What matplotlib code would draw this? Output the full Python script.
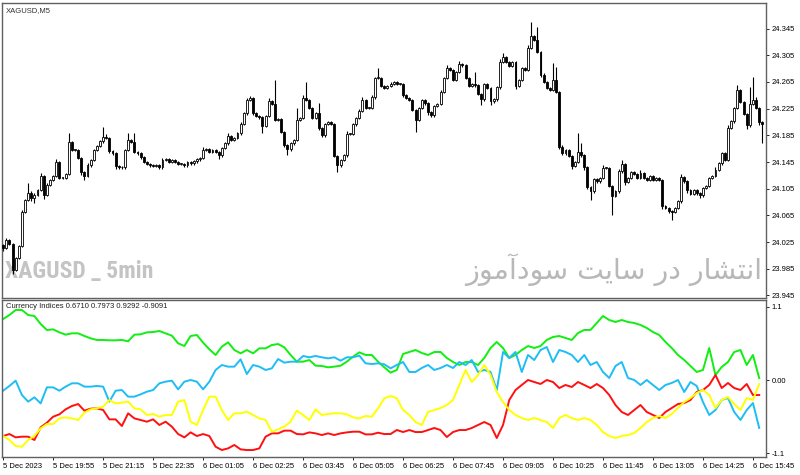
import matplotlib
matplotlib.use("Agg")
import matplotlib.pyplot as plt
from matplotlib import font_manager
import numpy as np

# XAGUSD M5 closes, one per bar (5 Dec 18:35 onwards)
close = [
    24.016, 24.028, 24.022, 23.983, 24.001, 24.019, 24.070, 24.088, 24.099, 24.091, 24.096, 24.103, 24.124, 24.096, 24.111, 24.118,
    24.124, 24.145, 24.121, 24.121, 24.127, 24.175, 24.163, 24.163, 24.151, 24.130, 24.124, 24.140, 24.148, 24.163, 24.169, 24.176,
    24.182, 24.181, 24.161, 24.158, 24.139, 24.137, 24.137, 24.163, 24.178, 24.175, 24.160, 24.158, 24.152, 24.145, 24.142, 24.140,
    24.139, 24.140, 24.137, 24.148, 24.149, 24.145, 24.148, 24.145, 24.142, 24.142, 24.140, 24.145, 24.143, 24.146, 24.149, 24.151,
    24.163, 24.164, 24.160, 24.163, 24.160, 24.155, 24.166, 24.173, 24.184, 24.178, 24.181, 24.188, 24.202, 24.218, 24.238, 24.241,
    24.218, 24.214, 24.212, 24.199, 24.214, 24.236, 24.232, 24.208, 24.209, 24.190, 24.170, 24.164, 24.173, 24.178, 24.208, 24.211,
    24.241, 24.238, 24.226, 24.211, 24.218, 24.196, 24.185, 24.202, 24.205, 24.202, 24.154, 24.140, 24.148, 24.155, 24.187, 24.187,
    24.202, 24.211, 24.222, 24.238, 24.226, 24.226, 24.242, 24.271, 24.271, 24.259, 24.256, 24.259, 24.262, 24.265, 24.262, 24.262,
    24.245, 24.241, 24.238, 24.223, 24.208, 24.226, 24.238, 24.233, 24.220, 24.215, 24.229, 24.232, 24.250, 24.271, 24.286, 24.283,
    24.268, 24.280, 24.292, 24.290, 24.271, 24.259, 24.262, 24.260, 24.247, 24.239, 24.262, 24.256, 24.236, 24.239, 24.257, 24.295,
    24.302, 24.295, 24.289, 24.295, 24.259, 24.268, 24.286, 24.283, 24.316, 24.334, 24.328, 24.310, 24.276, 24.265, 24.256, 24.253,
    24.268, 24.250, 24.168, 24.158, 24.163, 24.154, 24.139, 24.145, 24.160, 24.155, 24.137, 24.107, 24.101, 24.119, 24.116, 24.121,
    24.136, 24.136, 24.109, 24.094, 24.101, 24.131, 24.142, 24.115, 24.121, 24.130, 24.127, 24.121, 24.128, 24.121, 24.118, 24.124,
    24.118, 24.121, 24.118, 24.079, 24.076, 24.071, 24.070, 24.076, 24.086, 24.122, 24.116, 24.103, 24.097, 24.103, 24.098, 24.095,
    24.106, 24.109, 24.121, 24.124, 24.133, 24.143, 24.158, 24.148, 24.196, 24.206, 24.226, 24.253, 24.235, 24.217, 24.200, 24.232,
    24.238, 24.226, 24.205, 24.202,
]
first_open = 24.020

# wick lengths above / below the body, in thousandths
up_wick = [
    2, 3, 2, 2, 2, 2, 3, 2, 15, 2, 2, 2, 4, 2, 2, 2,
    2, 4, 2, 2, 2, 13, 2, 2, 2, 2, 2, 3, 2, 2, 2, 2,
    15, 5, 2, 2, 2, 2, 2, 2, 10, 2, 13, 2, 2, 2, 2, 2,
    2, 2, 2, 3, 2, 2, 2, 2, 2, 2, 2, 2, 2, 2, 2, 2,
    4, 2, 2, 2, 2, 2, 2, 2, 4, 2, 2, 2, 3, 2, 3, 3,
    2, 2, 2, 2, 2, 5, 2, 36, 2, 2, 2, 2, 2, 2, 18, 2,
    5, 24, 2, 2, 2, 15, 2, 2, 2, 2, 2, 2, 2, 2, 4, 2,
    2, 2, 2, 5, 2, 2, 4, 2, 15, 2, 2, 2, 3, 2, 2, 2,
    2, 2, 2, 2, 2, 2, 2, 2, 2, 2, 2, 2, 3, 2, 4, 2,
    2, 2, 4, 2, 2, 2, 2, 18, 2, 2, 2, 2, 2, 2, 2, 5,
    6, 2, 2, 2, 2, 2, 2, 2, 4, 21, 2, 20, 2, 2, 2, 2,
    25, 20, 2, 2, 2, 2, 2, 2, 28, 13, 2, 2, 2, 2, 2, 2,
    5, 2, 2, 2, 2, 4, 6, 2, 2, 2, 2, 2, 5, 2, 2, 2,
    2, 2, 2, 2, 2, 2, 2, 2, 2, 5, 2, 2, 2, 2, 2, 2,
    2, 2, 2, 2, 4, 2, 2, 2, 4, 2, 2, 8, 2, 2, 2, 25,
    35, 4, 2, 2,
]
down_wick = [
    5, 2, 2, 6, 2, 2, 2, 2, 2, 5, 8, 2, 2, 6, 2, 2,
    2, 2, 2, 2, 2, 2, 2, 2, 2, 4, 6, 2, 2, 2, 2, 2,
    2, 2, 2, 2, 4, 2, 2, 2, 2, 2, 2, 2, 3, 2, 2, 2,
    2, 2, 2, 2, 2, 2, 2, 2, 2, 2, 2, 2, 2, 2, 2, 2,
    2, 2, 2, 2, 2, 6, 2, 2, 2, 2, 2, 2, 2, 2, 2, 2,
    2, 2, 2, 10, 2, 2, 2, 2, 2, 2, 2, 9, 2, 2, 2, 2,
    2, 2, 2, 2, 2, 3, 2, 2, 2, 2, 2, 10, 2, 2, 2, 2,
    2, 3, 2, 2, 2, 2, 2, 2, 2, 2, 2, 2, 2, 2, 2, 2,
    2, 2, 2, 2, 18, 2, 2, 2, 4, 2, 2, 2, 2, 2, 2, 2,
    2, 2, 2, 2, 2, 2, 2, 2, 2, 9, 2, 2, 5, 2, 2, 2,
    2, 2, 2, 2, 5, 2, 2, 2, 2, 2, 2, 2, 3, 2, 2, 2,
    2, 2, 4, 2, 2, 2, 4, 2, 2, 2, 4, 2, 13, 2, 2, 2,
    2, 2, 2, 28, 2, 2, 2, 4, 2, 2, 2, 2, 2, 2, 2, 2,
    2, 2, 2, 4, 2, 2, 12, 2, 2, 2, 2, 5, 2, 2, 2, 4,
    2, 2, 2, 2, 2, 2, 2, 2, 2, 2, 2, 2, 2, 2, 5, 2,
    2, 2, 4, 28,
]

time_labels = ["5 Dec 2023", "5 Dec 19:55", "5 Dec 21:15", "5 Dec 22:35",
               "6 Dec 01:05", "6 Dec 02:25", "6 Dec 03:45", "6 Dec 05:05",
               "6 Dec 06:25", "6 Dec 07:45", "6 Dec 09:05", "6 Dec 10:25",
               "6 Dec 11:45", "6 Dec 13:05", "6 Dec 14:25", "6 Dec 15:45"]
price_ticks = [24.345, 24.305, 24.265, 24.225, 24.185, 24.145,
               24.105, 24.065, 24.025, 23.985, 23.945]

# Currency Indices, one value every second bar
idx_green = [
    0.919, 0.979, 1.055, 1.055, 0.979, 0.964, 0.844, 0.753, 0.763, 0.718, 0.683, 0.703, 0.703, 0.663, 0.628, 0.603,
    0.603, 0.598, 0.598, 0.603, 0.583, 0.683, 0.688, 0.718, 0.723, 0.738, 0.703, 0.668, 0.553, 0.512, 0.663, 0.678,
    0.563, 0.462, 0.377, 0.502, 0.568, 0.452, 0.402, 0.452, 0.402, 0.477, 0.477, 0.527, 0.542, 0.492, 0.377, 0.276,
    0.276, 0.301, 0.216, 0.211, 0.191, 0.201, 0.216, 0.276, 0.352, 0.417, 0.377, 0.377, 0.276, 0.191, 0.111, 0.151,
    0.392, 0.422, 0.452, 0.407, 0.377, 0.422, 0.422, 0.332, 0.271, 0.226, 0.271, 0.271, 0.226, 0.332, 0.482, 0.573,
    0.482, 0.332, 0.377, 0.452, 0.512, 0.482, 0.512, 0.603, 0.648, 0.663, 0.633, 0.603, 0.708, 0.754, 0.754, 0.859,
    0.964, 0.904, 0.874, 0.904, 0.874, 0.859, 0.829, 0.784, 0.723, 0.678, 0.573, 0.482, 0.377, 0.301, 0.211, 0.121,
    0.151, 0.482, 0.075, 0.196, 0.271, 0.422, 0.452, 0.226, 0.377, 0.030,
]
idx_blue = [
    -0.161, -0.090, -0.010, -0.226, -0.326, -0.261, -0.352, -0.111, -0.111, -0.161, -0.100, -0.050, -0.050, -0.100, -0.100, -0.090,
    -0.100, -0.326, -0.161, -0.151, -0.251, -0.251, -0.216, -0.176, -0.151, -0.050, -0.025, -0.010, -0.141, -0.025, 0.000, -0.025,
    -0.141, -0.025, 0.151, 0.226, 0.201, 0.201, 0.311, 0.090, 0.226, 0.201, 0.151, 0.176, 0.316, 0.261, 0.276, 0.276,
    0.362, 0.342, 0.362, 0.342, 0.326, 0.342, 0.291, 0.342, 0.342, 0.367, 0.251, 0.241, 0.251, 0.236, 0.176, 0.226,
    0.271, 0.121, 0.121, 0.181, 0.226, 0.151, 0.181, 0.226, 0.181, 0.271, 0.226, 0.301, 0.121, 0.151, 0.121, -0.151,
    0.422, 0.332, 0.422, 0.121, 0.377, 0.301, 0.452, 0.497, 0.271, 0.452, 0.422, 0.377, 0.271, 0.377, 0.226, 0.271,
    0.121, 0.030, 0.211, 0.271, 0.030, 0.000, -0.075, 0.000, -0.075, -0.151, -0.075, -0.045, 0.000, -0.181, -0.030, -0.090,
    -0.332, -0.527, -0.452, -0.301, -0.271, -0.482, -0.603, -0.452, -0.347, -0.723,
]
idx_red = [
    -0.844, -0.814, -0.864, -0.854, -0.854, -0.904, -0.713, -0.643, -0.553, -0.517, -0.442, -0.392, -0.362, -0.462, -0.432, -0.427,
    -0.452, -0.593, -0.593, -0.693, -0.502, -0.578, -0.603, -0.628, -0.593, -0.678, -0.628, -0.703, -0.814, -0.864, -0.789, -0.844,
    -0.814, -0.844, -1.005, -1.055, -1.030, -0.979, -1.045, -1.055, -1.055, -1.030, -0.854, -0.804, -0.804, -0.763, -0.763, -0.814,
    -0.819, -0.789, -0.804, -0.829, -0.804, -0.829, -0.804, -0.789, -0.779, -0.779, -0.819, -0.819, -0.794, -0.814, -0.814, -0.753,
    -0.784, -0.754, -0.784, -0.784, -0.754, -0.723, -0.754, -0.859, -0.784, -0.754, -0.754, -0.723, -0.678, -0.633, -0.678, -0.874,
    -0.678, -0.301, -0.151, -0.075, 0.000, -0.030, -0.060, 0.000, -0.030, -0.121, -0.075, -0.105, -0.030, -0.075, -0.121, -0.060,
    -0.121, -0.226, -0.377, -0.482, -0.527, -0.452, -0.377, -0.482, -0.527, -0.573, -0.482, -0.422, -0.362, -0.347, -0.301, -0.181,
    -0.151, -0.075, 0.075, -0.121, -0.045, -0.121, -0.151, -0.060, -0.226, -0.226,
]
idx_yellow = [
    -0.844, -0.904, -0.995, -1.005, -0.904, -0.844, -0.728, -0.663, -0.663, -0.578, -0.563, -0.578, -0.603, -0.492, -0.442, -0.427,
    -0.402, -0.301, -0.352, -0.342, -0.326, -0.427, -0.442, -0.527, -0.512, -0.553, -0.527, -0.527, -0.326, -0.301, -0.628, -0.678,
    -0.452, -0.251, -0.251, -0.452, -0.603, -0.502, -0.502, -0.477, -0.527, -0.578, -0.603, -0.779, -0.743, -0.703, -0.628, -0.462,
    -0.527, -0.603, -0.442, -0.527, -0.512, -0.502, -0.502, -0.517, -0.563, -0.578, -0.542, -0.553, -0.427, -0.276, -0.241, -0.276,
    -0.452, -0.527, -0.633, -0.678, -0.482, -0.452, -0.422, -0.377, -0.301, -0.075, 0.151, -0.030, 0.075, 0.226, 0.075, -0.181,
    -0.332, -0.452, -0.527, -0.573, -0.603, -0.573, -0.603, -0.633, -0.723, -0.573, -0.527, -0.573, -0.603, -0.573, -0.603, -0.678,
    -0.784, -0.844, -0.874, -0.844, -0.829, -0.799, -0.723, -0.633, -0.573, -0.543, -0.573, -0.512, -0.422, -0.332, -0.271, -0.196,
    -0.151, -0.226, -0.422, -0.301, -0.256, -0.362, -0.452, -0.271, -0.301, -0.060,
]
idx_title = "Currency Indices 0.6710 0.7973 0.9292 -0.9091"
# "انتشار در سایت سودآموز" in shaped presentation forms, visual (left-to-right) order
watermark_fa = ("\uFEAF\uFEEE\uFEE3\uFE81\uFEA9\uFEEE\uFEB3 \uFE96\uFBFE\uFE8E\uFEB3 "
                "\uFEAD\uFEA9 \uFEAD\uFE8E\uFEB8\uFE98\uFEE7\uFE8D")

small = dict(family="Liberation Sans", size=5.5)
frame = "#606060"

# pick a narrow bold face for the big symbol watermark if one is installed
installed = {f.name for f in font_manager.fontManager.ttflist}
narrow = next((n for n in ["Liberation Sans Narrow", "Roboto Condensed", "Open Sans Condensed"]
               if n in installed), None)
if narrow:
    wm_font = dict(family=narrow, fontsize=17)
else:
    wm_font = dict(family="DejaVu Sans", fontstretch="condensed", fontsize=11.5)

fig = plt.figure(figsize=(8, 4.75), dpi=100)
ax = fig.add_axes([0.002, 0.3726, 0.9556, 0.6211])
ax2 = fig.add_axes([0.002, 0.0379, 0.9556, 0.3295])

# candles
c = np.array(close)
o = np.r_[first_open, c[:-1]]
x = np.arange(len(c))
top = np.maximum(o, c)
bot = np.minimum(o, c)
hi = top + np.array(up_wick) / 1000
lo = bot - np.array(down_wick) / 1000
ax.vlines(x, lo, hi, color="black", lw=0.8, zorder=2)
bull = c >= o
body = np.maximum(top - bot, 0.0009)
ax.bar(x[bull], body[bull], bottom=bot[bull], width=0.62, color="white",
       edgecolor="black", lw=0.6, zorder=3)
ax.bar(x[~bull], body[~bull], bottom=bot[~bull], width=0.62, color="black",
       edgecolor="black", lw=0.6, zorder=3)

ax.set_xlim(-0.5, 244.2)
ax.set_ylim(23.941, 24.3835)
ax.set_xticks([])
ax.yaxis.tick_right()
ax.set_yticks(price_ticks)
ax.set_yticklabels([f"{p:.3f}" for p in price_ticks])
ax.tick_params(axis="y", length=2, width=0.6, pad=2, colors="black", labelsize=5.5)
for t in ax.get_yticklabels():
    t.set_family("Liberation Sans")

ax.text(0.006, 0.985, "XAGUSD,M5", transform=ax.transAxes, va="top", ha="left",
        color="#303030", **small)
ax.text(0.004, 0.09, "XAGUSD _ 5min", transform=ax.transAxes, va="center", ha="left",
        color="#c4c4c4", fontweight="bold", zorder=1, **wm_font)
ax.text(0.995, 0.095, watermark_fa, transform=ax.transAxes, va="center", ha="right",
        color="#b8b8b8", fontsize=20.5, family="DejaVu Sans", zorder=1)

# indicator
xi = np.arange(0, len(c), 2)
ax2.plot(xi, idx_green, color="#11ee11", lw=1.4)
ax2.plot(xi, idx_blue, color="#1ebdf5", lw=1.4)
ax2.plot(xi, idx_red, color="#ff1010", lw=1.4)
ax2.plot(xi, idx_yellow, color="#ffff00", lw=1.4)
ax2.set_xlim(-0.5, 244.2)
ax2.set_ylim(-1.16, 1.198)
ax2.yaxis.tick_right()
ax2.set_yticks([1.1, 0.0, -1.1])
ax2.set_yticklabels(["1.1", "0.00", "-1.1"])
ax2.set_xticks(np.arange(0, 241, 16))
ax2.set_xticklabels(time_labels)
ax2.tick_params(axis="both", length=2, width=0.6, pad=2, colors="black", labelsize=5.5)
for t in ax2.get_xticklabels():
    t.set_ha("left")
    t.set_family("Liberation Sans")
for t in ax2.get_yticklabels():
    t.set_family("Liberation Sans")
ax2.text(0.006, 0.985, idx_title, transform=ax2.transAxes, va="top", ha="left",
         color="#202020", **small)

for a in (ax, ax2):
    for s in a.spines.values():
        s.set_color(frame)
        s.set_linewidth(1.0)

fig.savefig("out.png", dpi=100)
